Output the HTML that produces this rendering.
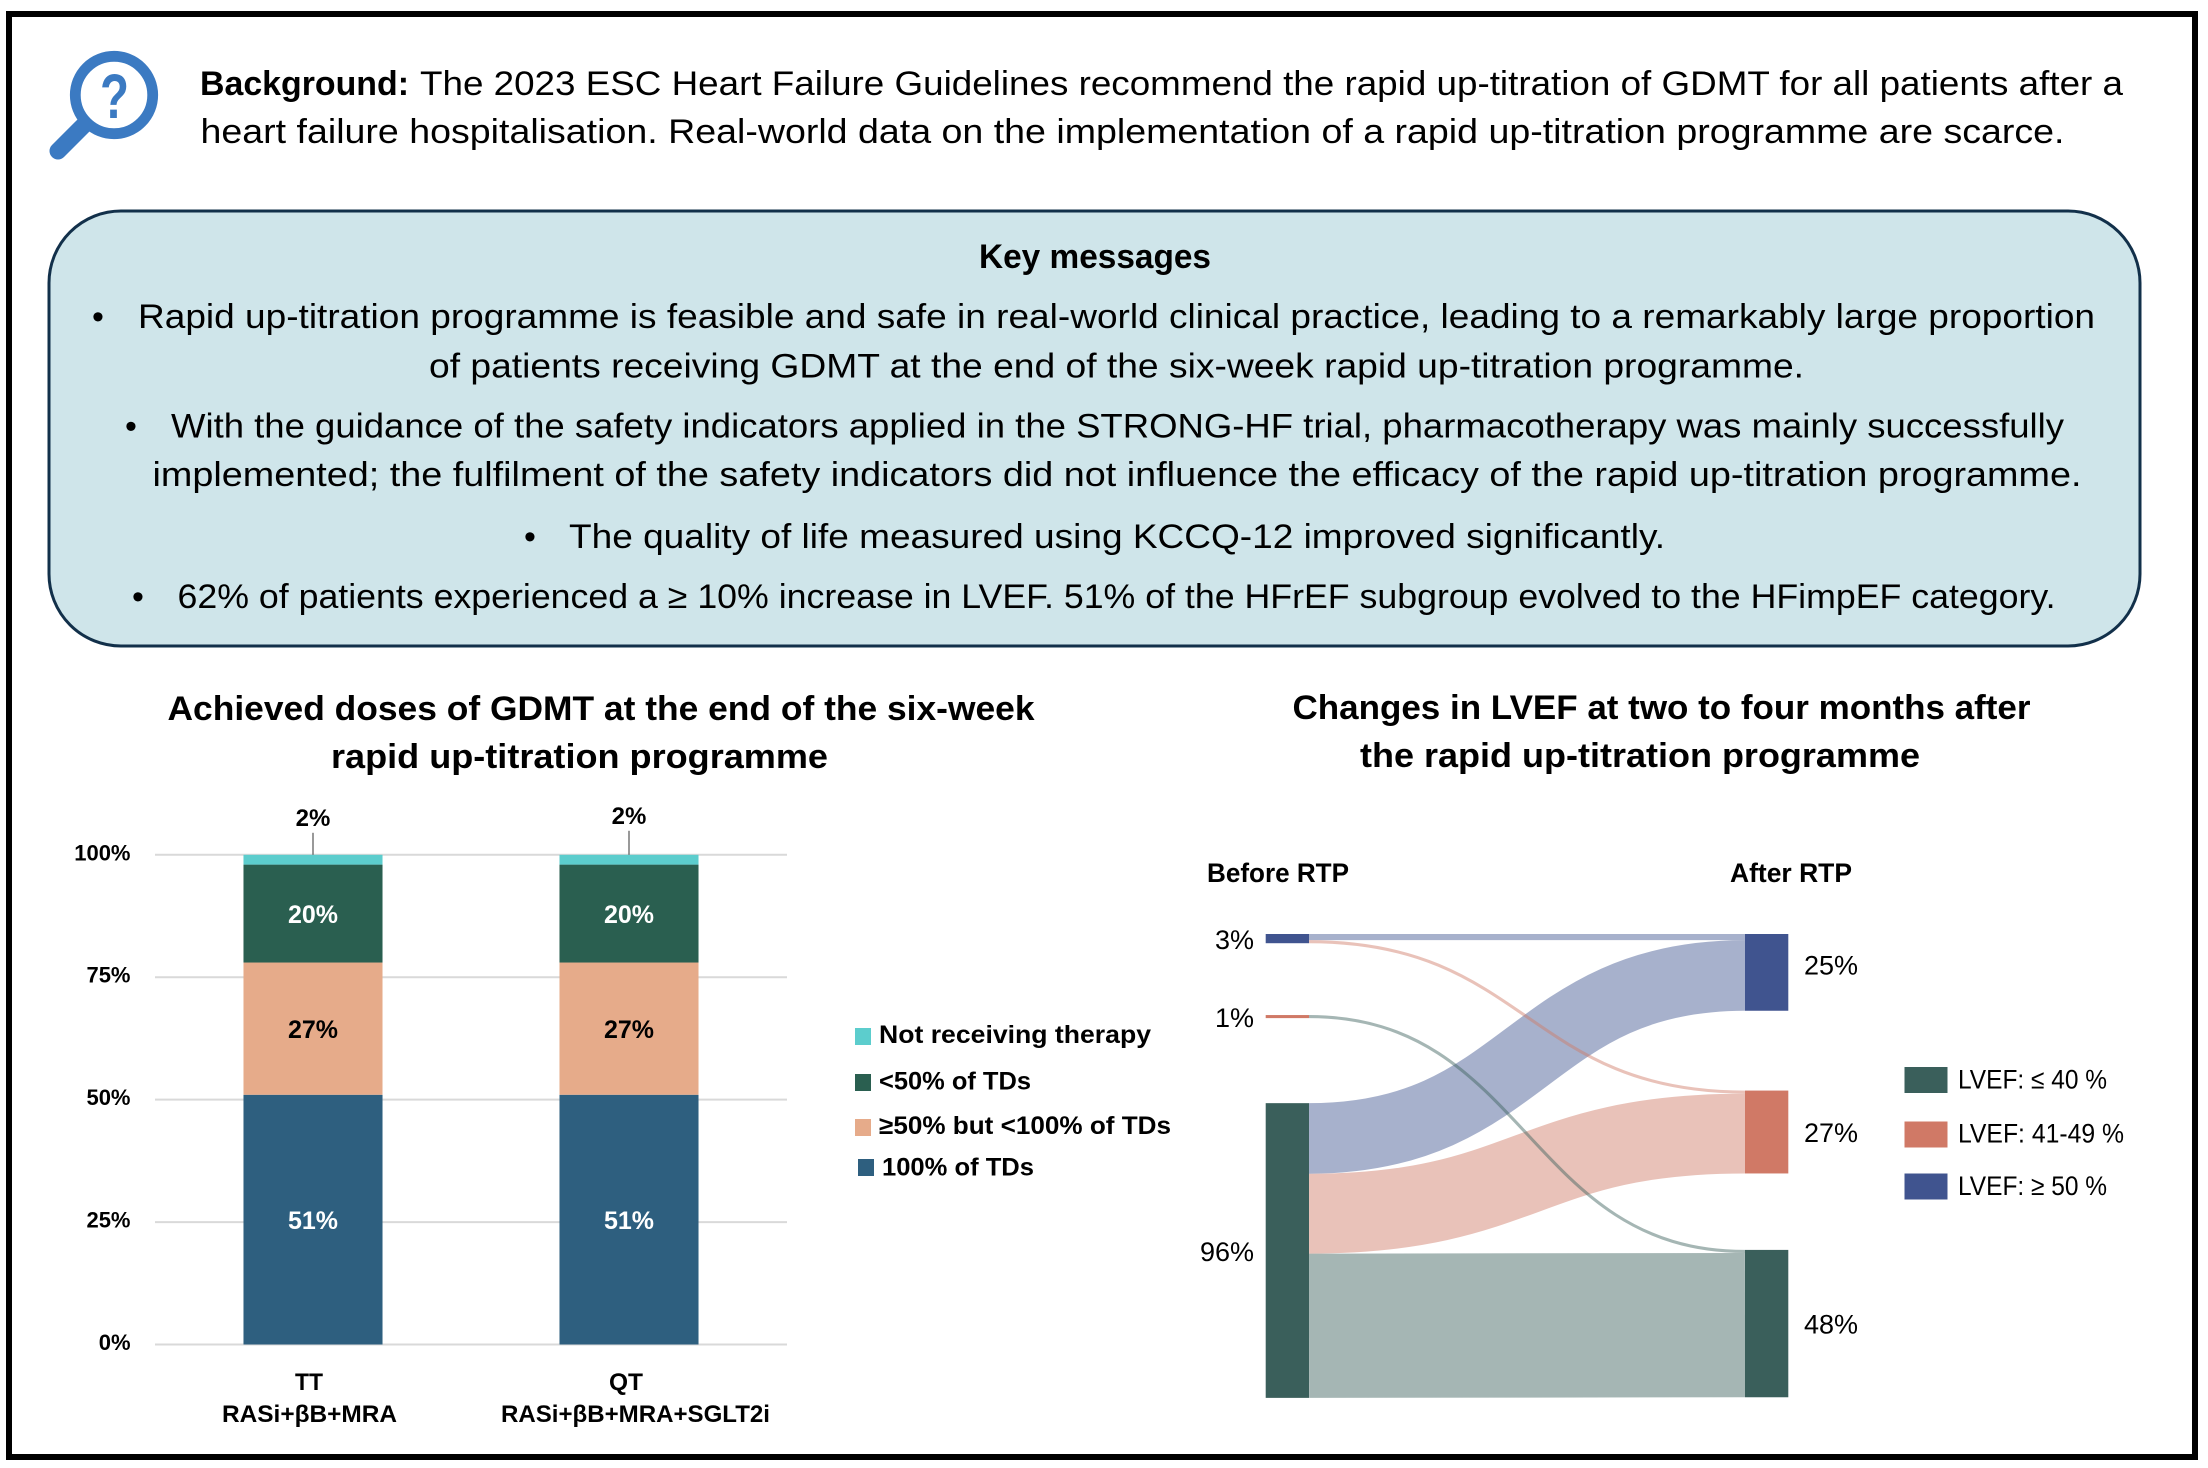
<!DOCTYPE html>
<html lang="en">
<head>
<meta charset="utf-8">
<title>Rapid up-titration programme graphical abstract</title>
<style>
html,body{margin:0;padding:0;background:#fff;width:2208px;height:1468px;overflow:hidden}
svg{display:block}
text{font-family:"Liberation Sans",sans-serif;fill:#000}
.b{font-weight:700}
.body{font-size:34px}
.ttl{font-size:34px;font-weight:700}
</style>
</head>
<body>
<svg id="root" xmlns="http://www.w3.org/2000/svg" width="2208" height="1468" viewBox="0 0 2208 1468">
  <rect x="0" y="0" width="2208" height="1468" fill="#fff"/>
  <rect x="9" y="14" width="2186" height="1443" fill="none" stroke="#000" stroke-width="6"/>

  <g>
    <circle cx="114" cy="95" r="38.7" fill="none" stroke="#3B7AC2" stroke-width="10.8"/>
    <line x1="84" y1="125" x2="58" y2="151" stroke="#3B7AC2" stroke-width="17" stroke-linecap="round"/>
    <text x="100" y="118" font-size="63" font-weight="700" style="fill:#3B7AC2" textLength="29" lengthAdjust="spacingAndGlyphs">?</text>
  </g>

  <g>
    <text x="200" y="95" class="body b" textLength="209" lengthAdjust="spacingAndGlyphs">Background:</text>
    <text x="420" y="95" class="body" textLength="1703" lengthAdjust="spacingAndGlyphs">The 2023 ESC Heart Failure Guidelines recommend the rapid up-titration of GDMT for all patients after a</text>
    <text x="200.5" y="143" class="body" textLength="1864" lengthAdjust="spacingAndGlyphs">heart failure hospitalisation. Real-world data on the implementation of a rapid up-titration programme are scarce.</text>
  </g>

  <g>
    <rect x="49" y="211" width="2091" height="435" rx="72" ry="72" fill="#CFE5EA" stroke="#12304A" stroke-width="3"/>
    <text x="979" y="268" class="body b" textLength="232" lengthAdjust="spacingAndGlyphs">Key messages</text>
    <text x="98" y="328" class="body" text-anchor="middle">•</text>
    <text x="138" y="328" class="body" textLength="1957" lengthAdjust="spacingAndGlyphs">Rapid up-titration programme is feasible and safe in real-world clinical practice, leading to a remarkably large proportion</text>
    <text x="429" y="377.5" class="body" textLength="1375" lengthAdjust="spacingAndGlyphs">of patients receiving GDMT at the end of the six-week rapid up-titration programme.</text>
    <text x="131" y="437.5" class="body" text-anchor="middle">•</text>
    <text x="171" y="437.5" class="body" textLength="1893" lengthAdjust="spacingAndGlyphs">With the guidance of the safety indicators applied in the STRONG-HF trial, pharmacotherapy was mainly successfully</text>
    <text x="152.5" y="486" class="body" textLength="1929" lengthAdjust="spacingAndGlyphs">implemented; the fulfilment of the safety indicators did not influence the efficacy of the rapid up-titration programme.</text>
    <text x="530" y="548" class="body" text-anchor="middle">•</text>
    <text x="569" y="548" class="body" textLength="1096" lengthAdjust="spacingAndGlyphs">The quality of life measured using KCCQ-12 improved significantly.</text>
    <text x="138" y="608" class="body" text-anchor="middle">•</text>
    <text x="177.5" y="608" class="body" textLength="1878" lengthAdjust="spacingAndGlyphs">62% of patients experienced a ≥ 10% increase in LVEF. 51% of the HFrEF subgroup evolved to the HFimpEF category.</text>
  </g>

  <g>
    <text x="167.5" y="720" class="ttl" textLength="867" lengthAdjust="spacingAndGlyphs">Achieved doses of GDMT at the end of the six-week</text>
    <text x="331" y="768" class="ttl" textLength="497" lengthAdjust="spacingAndGlyphs">rapid up-titration programme</text>
    <g id="gridGroup"></g>
    <g id="barGroup"></g>
    <text x="295" y="1390" font-size="24" class="b" textLength="28" lengthAdjust="spacingAndGlyphs">TT</text>
    <text x="222" y="1422" font-size="24" class="b" textLength="175" lengthAdjust="spacingAndGlyphs">RASi+βB+MRA</text>
    <text x="609" y="1390" font-size="24" class="b" textLength="34" lengthAdjust="spacingAndGlyphs">QT</text>
    <text x="501" y="1422" font-size="24" class="b" textLength="269" lengthAdjust="spacingAndGlyphs">RASi+βB+MRA+SGLT2i</text>
    <g>
      <rect x="855" y="1028" width="16" height="17" fill="#5CCDCD"/>
      <text x="879" y="1043" font-size="25" class="b" textLength="272" lengthAdjust="spacingAndGlyphs">Not receiving therapy</text>
      <rect x="855" y="1074" width="16" height="17" fill="#2A5F50"/>
      <text x="879" y="1089.5" font-size="25" class="b" textLength="152" lengthAdjust="spacingAndGlyphs">&lt;50% of TDs</text>
      <rect x="855" y="1119" width="16" height="17" fill="#E6AB8A"/>
      <text x="879" y="1134" font-size="25" class="b" textLength="292" lengthAdjust="spacingAndGlyphs">≥50% but &lt;100% of TDs</text>
      <rect x="858" y="1159" width="16" height="17" fill="#2E5F7F"/>
      <text x="882" y="1175.5" font-size="25" class="b" textLength="152" lengthAdjust="spacingAndGlyphs">100% of TDs</text>
    </g>
  </g>

  <g>
    <text x="1292.5" y="719" class="ttl" textLength="738" lengthAdjust="spacingAndGlyphs">Changes in LVEF at two to four months after</text>
    <text x="1360" y="767" class="ttl" textLength="560" lengthAdjust="spacingAndGlyphs">the rapid up-titration programme</text>
    <text x="1207" y="882" font-size="27" class="b" textLength="142" lengthAdjust="spacingAndGlyphs">Before RTP</text>
    <text x="1730" y="882" font-size="27" class="b" textLength="122" lengthAdjust="spacingAndGlyphs">After RTP</text>
    <g id="flowGroup"></g>
    <g id="nodeGroup"></g>
    <g>
      <rect x="1904.5" y="1067" width="43" height="26" fill="#3A5F5B"/>
      <text x="1958" y="1088.5" font-size="27" textLength="149" lengthAdjust="spacingAndGlyphs">LVEF: ≤ 40 %</text>
      <rect x="1904.5" y="1121.5" width="43" height="26" fill="#D07966"/>
      <text x="1958" y="1142.5" font-size="27" textLength="166" lengthAdjust="spacingAndGlyphs">LVEF: 41-49 %</text>
      <rect x="1904.5" y="1173.5" width="43" height="26" fill="#40548F"/>
      <text x="1958" y="1195" font-size="27" textLength="149" lengthAdjust="spacingAndGlyphs">LVEF: ≥ 50 %</text>
    </g>
  </g>
</svg>
<script>
/* ---- stacked bar chart data ---- */
const categories = ['TT', 'QT'];
const seriesNames = ['100-of-tds', '50-to-100-of-tds', 'under-50-of-tds', 'not-receiving'];
const seriesFull = [51, 51];
const seriesPartial = [27, 27];
const seriesLow = [20, 20];
const seriesNone = [2, 2];
const yTicks = [0, 25, 50, 75, 100];

/* ---- sankey data ---- */
const beforeNames = ['high', 'mid', 'low'];
const afterNames = ['high', 'mid', 'low'];
const flowSources = [0, 0, 1, 2, 2, 2];
const flowTargets = [0, 1, 2, 0, 1, 2];
const flowValues = [2, 1, 1, 23, 26, 47];

const NS = 'http://www.w3.org/2000/svg';
function mk(tag, attrs, parent, txt) {
  const e = document.createElementNS(NS, tag);
  for (const k in attrs) e.setAttribute(k, attrs[k]);
  if (txt !== undefined) e.textContent = txt;
  parent.appendChild(e);
  return e;
}

/* ---- stacked bars ---- */
const plotLeft = 155, plotRight = 787, plotBottom = 1344.5, plotTop = 854.8;
const yScale = v => plotBottom - (plotBottom - plotTop) * v / 100;
const bandW = (plotRight - plotLeft) / categories.length;
const xCenter = i => plotLeft + bandW * (i + 0.5);
const barW = bandW * 0.44;
const seriesValues = [seriesFull, seriesPartial, seriesLow, seriesNone];
const seriesColors = ['#2E5F7F', '#E6AB8A', '#2A5F50', '#5CCDCD'];
const labelColors = ['#fff', '#000', '#fff', '#000'];

const gridGroup = document.getElementById('gridGroup');
yTicks.forEach(t => {
  const g = mk('line', {x1: plotLeft, x2: plotRight, y1: yScale(t), y2: yScale(t), stroke: '#D9D9D9', 'stroke-width': 2}, gridGroup);
  
  
  const l = mk('text', {x: 130.5, y: yScale(t) + 5.5, 'text-anchor': 'end', 'font-size': 22, class: 'b'}, gridGroup, t + '%');
  
  
});

const barGroup = document.getElementById('barGroup');
categories.forEach((cat, i) => {
  let base = 0;
  seriesValues.forEach((vals, s) => {
    const v = vals[i];
    const top = yScale(base + v), bottom = yScale(base);
    const r = mk('rect', {x: xCenter(i) - barW / 2, y: top, width: barW, height: bottom - top, fill: seriesColors[s]}, barGroup);
    
    
    if (s < 3) {
      const l = mk('text', {x: xCenter(i), y: (top + bottom) / 2 + 9.5, 'text-anchor': 'middle', 'font-size': 25, class: 'b', style: 'fill:' + labelColors[s]}, barGroup, v + '%');
      
      
    } else {
      const rise = i === 0 ? 22 : 24;
      const ln = mk('line', {x1: xCenter(i), x2: xCenter(i), y1: top - rise, y2: top, stroke: '#555', 'stroke-width': 1.2}, barGroup);
      
      
      const l = mk('text', {x: xCenter(i), y: top - rise - 7, 'text-anchor': 'middle', 'font-size': 24, class: 'b'}, barGroup, v + '%');
      
      
    }
    base += v;
  });
});

/* ---- sankey ---- */
const pxPerPct = 3.07, sankeyTop = 934;
const leftX0 = 1265.7, leftX1 = 1309, rightX0 = 1745, rightX1 = 1788.3;
const nodeColors = {high: '#40548F', mid: '#D07966', low: '#3A5F5B'};
const leftGaps = [0, 23.4, 27.7];
const rightGaps = [0, 26, 24.9];
const sum = (idx, arr, key) => arr.reduce((a, v, f) => a + (key[f] === idx ? v : 0), 0);

function layout(names, gaps, key) {
  let cursor = sankeyTop;
  return names.map((n, i) => {
    cursor += gaps[i] * pxPerPct;
    const val = sum(i, flowValues, key);
    const node = {name: n, value: val, y0: cursor, y1: cursor + val * pxPerPct, used: 0};
    cursor = node.y1;
    return node;
  });
}
const leftNodes = layout(beforeNames, leftGaps, flowSources);
const rightNodes = layout(afterNames, rightGaps, flowTargets);

const flowGroup = document.getElementById('flowGroup');
const midX = (leftX1 + rightX0) / 2;
const flowOrder = flowValues.map((v, i) => i).sort((a, b) => flowValues[b] - flowValues[a]);
const flowGeom = flowValues.map((v, i) => {
  const s = leftNodes[flowSources[i]], t = rightNodes[flowTargets[i]];
  const h = v * pxPerPct;
  const sy = s.y0 + s.used, ty = t.y0 + t.used;
  s.used += h; t.used += h;
  return {sy, ty, h, color: nodeColors[t.name]};
});
flowOrder.forEach(i => {
  const f = flowGeom[i];
  const y0 = f.sy + f.h / 2, y1 = f.ty + f.h / 2;
  const d = 'M' + leftX1 + ' ' + y0 +
    ' C' + midX + ' ' + y0 + ' ' + midX + ' ' + y1 + ' ' + rightX0 + ' ' + y1;
  const p = mk('path', {d: d, fill: 'none', stroke: f.color, 'stroke-opacity': 0.46, 'stroke-width': f.h}, flowGroup);
  
  
});

const nodeGroup = document.getElementById('nodeGroup');
leftNodes.forEach(n => {
  const r = mk('rect', {x: leftX0, y: n.y0, width: leftX1 - leftX0, height: n.y1 - n.y0, fill: nodeColors[n.name]}, nodeGroup);
  
  
  const l = mk('text', {x: 1254, y: (n.y0 + n.y1) / 2 + 10.5, 'text-anchor': 'end', 'font-size': 27}, nodeGroup, n.value + '%');
  
  
});
rightNodes.forEach(n => {
  const r = mk('rect', {x: rightX0, y: n.y0, width: rightX1 - rightX0, height: n.y1 - n.y0, fill: nodeColors[n.name]}, nodeGroup);
  
  
  const l = mk('text', {x: 1804, y: (n.y0 + n.y1) / 2 + (n.name === 'high' ? 2 : 10), 'font-size': 27}, nodeGroup, n.value + '%');
  
  
});
</script>
</body>
</html>
